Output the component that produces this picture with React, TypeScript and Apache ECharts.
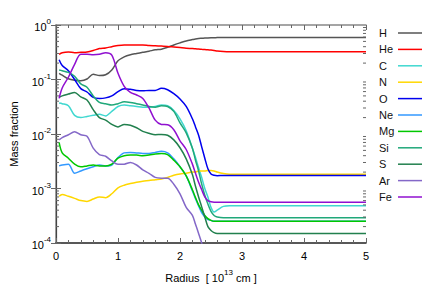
import React, { useEffect, useRef } from 'react';
import * as echarts from 'echarts';

// Radius in units of 10^13 cm
const radius = [0.05, 0.1, 0.2, 0.3, 0.4, 0.5, 0.6, 0.7, 0.8, 0.9, 1.0, 1.1, 1.2, 1.3, 1.4, 1.5, 1.6, 1.7, 1.8, 1.9, 2.0, 2.1, 2.2, 2.25, 2.3, 2.35, 2.4, 2.45, 2.5, 2.55, 2.6, 2.7, 2.8, 3.0, 3.5, 4.0, 4.5, 5.0];

const H = [0.13, 0.12, 0.103, 0.097, 0.095, 0.102, 0.125, 0.118, 0.122, 0.15, 0.22, 0.26, 0.285, 0.3, 0.315, 0.33, 0.35, 0.36, 0.39, 0.43, 0.47, 0.51, 0.54, 0.555, 0.565, 0.57, 0.575, 0.58, 0.583, 0.585, 0.587, 0.59, 0.59, 0.59, 0.59, 0.59, 0.59, 0.59];
const He = [0.29, 0.31, 0.32, 0.31, 0.315, 0.32, 0.34, 0.37, 0.38, 0.4, 0.42, 0.43, 0.43, 0.43, 0.43, 0.42, 0.415, 0.41, 0.405, 0.395, 0.385, 0.375, 0.37, 0.366, 0.362, 0.358, 0.355, 0.35, 0.348, 0.342, 0.333, 0.325, 0.322, 0.322, 0.322, 0.322, 0.322, 0.322];
const C = [0.037, 0.036, 0.033, 0.022, 0.02, 0.021, 0.022, 0.023, 0.0215, 0.026, 0.032, 0.034, 0.033, 0.032, 0.031, 0.031, 0.032, 0.034, 0.033, 0.027, 0.019, 0.0115, 0.0055, 0.0037, 0.0024, 0.0016, 0.001, 0.0007, 0.00045, 0.00037, 0.0004, 0.00047, 0.00048, 0.00048, 0.00048, 0.00048, 0.00048, 0.00048];
const N = [0.00072, 0.00078, 0.00072, 0.00066, 0.0006, 0.00058, 0.00064, 0.0007, 0.00068, 0.0008, 0.00103, 0.00115, 0.00123, 0.0013, 0.00136, 0.0014, 0.00145, 0.0015, 0.0016, 0.00175, 0.00185, 0.0019, 0.002, 0.002, 0.0021, 0.0021, 0.0021, 0.00215, 0.00215, 0.0021, 0.002, 0.00188, 0.00183, 0.00183, 0.00183, 0.00183, 0.00183, 0.00183];
const O = [0.23, 0.18, 0.145, 0.1, 0.068, 0.059, 0.047, 0.045, 0.046, 0.05, 0.06, 0.068, 0.066, 0.063, 0.062, 0.063, 0.063, 0.069, 0.065, 0.055, 0.044, 0.032, 0.019, 0.0135, 0.0095, 0.0058, 0.0036, 0.0023, 0.00185, 0.00175, 0.00172, 0.00173, 0.00173, 0.00173, 0.00173, 0.00173, 0.00173, 0.00173];
const Ne = [0.0026, 0.0027, 0.0028, 0.0019, 0.0021, 0.0023, 0.0025, 0.0027, 0.0026, 0.0027, 0.0037, 0.0045, 0.0046, 0.0045, 0.0044, 0.0044, 0.0046, 0.0048, 0.0045, 0.0035, 0.0025, 0.0017, 0.0009, 0.00065, 0.00048, 0.00036, 0.0003, 0.00027, 0.00026, 0.00025, 0.00025, 0.00025, 0.00025, 0.00025, 0.00025, 0.00025, 0.00025, 0.00025];
const Mg = [0.007, 0.0045, 0.0036, 0.0028, 0.0025, 0.0026, 0.0027, 0.0026, 0.0026, 0.0028, 0.0036, 0.004, 0.0041, 0.0041, 0.004, 0.0041, 0.0043, 0.0044, 0.0042, 0.0033, 0.0025, 0.0017, 0.00095, 0.00068, 0.0005, 0.0004, 0.00032, 0.00028, 0.00026, 0.00025, 0.00025, 0.00025, 0.00025, 0.00025, 0.00025, 0.00025, 0.00025, 0.00025];
const Si = [0.15, 0.145, 0.135, 0.115, 0.083, 0.072, 0.05, 0.038, 0.036, 0.034, 0.036, 0.039, 0.038, 0.036, 0.034, 0.032, 0.031, 0.033, 0.032, 0.026, 0.016, 0.0105, 0.0055, 0.0033, 0.0021, 0.0012, 0.00075, 0.00052, 0.00038, 0.00032, 0.0003, 0.00029, 0.00029, 0.00029, 0.00029, 0.00029, 0.00029, 0.00029];
const S = [0.047, 0.05, 0.054, 0.058, 0.048, 0.042, 0.028, 0.02, 0.018, 0.015, 0.0135, 0.015, 0.0145, 0.013, 0.0112, 0.0103, 0.0097, 0.0098, 0.0095, 0.0078, 0.0056, 0.0035, 0.0018, 0.0011, 0.0007, 0.00046, 0.0003, 0.0002, 0.00017, 0.000155, 0.00015, 0.00015, 0.00015, 0.00015, 0.00015, 0.00015, 0.00015, 0.00015];
const Ar = [0.0078, 0.0086, 0.0097, 0.011, 0.0097, 0.0091, 0.0055, 0.0042, 0.0039, 0.0032, 0.0028, 0.0028, 0.003, 0.0027, 0.0022, 0.0019, 0.0016, 0.00155, 0.00155, 0.0012, 0.0008, 0.00045, 0.00032, 0.00022, 0.00015, 0.0001, 0.00006, 0.00003, 0.00002, null, null, null, null, null, null, null, null, null];
const Fe = [0.045, 0.07, 0.11, 0.19, 0.29, 0.29, 0.285, 0.29, 0.31, 0.28, 0.13, 0.075, 0.058, 0.052, 0.045, 0.03, 0.018, 0.015, 0.0148, 0.012, 0.0075, 0.0052, 0.0028, 0.0019, 0.0013, 0.00095, 0.0007, 0.0006, 0.00057, 0.00056, 0.00056, 0.00056, 0.00056, 0.00056, 0.00056, 0.00056, 0.00056, 0.00056];

const elements = ['H', 'He', 'C', 'N', 'O', 'Ne', 'Mg', 'Si', 'S', 'Ar', 'Fe'];
const abundances = [H, He, C, N, O, Ne, Mg, Si, S, Ar, Fe];
const colors = ['#555555', '#ff0000', '#40d8d0', '#ffd700', '#0000ee', '#3399ff', '#00c800', '#20a87a', '#22804e', '#8468c8', '#9010d0'];

const minorTickValues = [
  0.0002, 0.0003, 0.0004, 0.0005, 0.0006, 0.0007, 0.0008, 0.0009,
  0.002, 0.003, 0.004, 0.005, 0.006, 0.007, 0.008, 0.009,
  0.02, 0.03, 0.04, 0.05, 0.06, 0.07, 0.08, 0.09,
  0.2, 0.3, 0.4, 0.5, 0.6, 0.7, 0.8, 0.9,
];

const FONT = 'Liberation Sans, Arial, sans-serif';

export default function App() {
  const ref = useRef<HTMLDivElement>(null);

  useEffect(() => {
    document.body.style.margin = '0';
    if (!ref.current) return;
    const chart = echarts.init(ref.current, undefined, { renderer: 'svg' });

    const lineSeries = elements.map((name, i) => ({
      name,
      type: 'line',
      data: radius.map((r, j) => [r, abundances[i][j]]),
      showSymbol: false,
      symbol: 'none',
      smooth: 0.3,
      connectNulls: false,
      clip: true,
      lineStyle: { color: colors[i], width: 1.5 },
      itemStyle: { color: colors[i] },
      z: 2,
    }));

    const minorTickSeries = {
      type: 'custom',
      data: minorTickValues.map((v) => [0, v]),
      encode: { x: 0, y: 1 },
      silent: true,
      clip: false,
      z: 5,
      renderItem: (_params: any, api: any) => {
        const v = api.value(1);
        const pl = api.coord([0, v]);
        const pr = api.coord([5, v]);
        return {
          type: 'group',
          children: [
            { type: 'line', shape: { x1: pl[0], y1: pl[1], x2: pl[0] + 3, y2: pl[1] }, style: { stroke: '#666', lineWidth: 1 } },
            { type: 'line', shape: { x1: pr[0], y1: pr[1], x2: pr[0] - 3, y2: pr[1] }, style: { stroke: '#666', lineWidth: 1 } },
          ],
        };
      },
    };

    const rich = {
      b: { fontSize: 11, fontFamily: FONT, color: '#000', lineHeight: 15, verticalAlign: 'bottom' },
      s: { fontSize: 8, fontFamily: FONT, color: '#000', lineHeight: 8, verticalAlign: 'top' },
    };

    const legendGraphics: any[] = [];
    elements.forEach((name, i) => {
      const y = 33 + i * 16.4;
      legendGraphics.push({
        type: 'text',
        x: 379,
        y,
        style: { text: name, fill: '#111', font: `11px ${FONT}`, verticalAlign: 'middle', align: 'left' },
      });
      legendGraphics.push({
        type: 'line',
        shape: { x1: 398, y1: y, x2: 422, y2: y },
        style: { stroke: colors[i], lineWidth: 1.5 },
      });
    });

    const option: any = {
      animation: false,
      backgroundColor: '#fff',
      textStyle: { fontFamily: FONT },
      grid: { left: 53, right: 70, top: 25, bottom: 62, containLabel: false },
      xAxis: [
        {
          type: 'value',
          min: 0,
          max: 5,
          interval: 1,
          position: 'bottom',
          name: '{b|Radius  [ 10}{s|13}{b| cm ]}',
          nameLocation: 'middle',
          nameGap: 25,
          nameTextStyle: { rich },
          axisLine: { show: true, lineStyle: { color: '#222', width: 1.5 } },
          axisTick: { show: true, inside: true, length: 5, lineStyle: { color: '#666' } },
          minorTick: { show: true, splitNumber: 5, length: 3, lineStyle: { color: '#666' } },
          axisLabel: { color: '#000', fontSize: 11, fontFamily: FONT, margin: 7 },
          splitLine: { show: false },
        },
        {
          type: 'value',
          min: 0,
          max: 5,
          interval: 1,
          position: 'top',
          axisLine: { show: true, lineStyle: { color: '#888', width: 1.5 } },
          axisTick: { show: true, inside: true, length: 5, lineStyle: { color: '#666' } },
          minorTick: { show: true, splitNumber: 5, length: 3, lineStyle: { color: '#666' } },
          axisLabel: { show: false },
          splitLine: { show: false },
        },
      ],
      yAxis: [
        {
          type: 'log',
          logBase: 10,
          min: 0.0001,
          max: 1,
          position: 'left',
          name: 'Mass fraction',
          nameLocation: 'middle',
          nameGap: 37,
          nameTextStyle: { color: '#000', fontSize: 11, fontFamily: FONT },
          axisLine: { show: true, lineStyle: { color: '#888', width: 1.5 } },
          axisTick: { show: true, inside: true, length: 5, lineStyle: { color: '#666' } },
          axisLabel: {
            margin: 5,
            formatter: (v: number) => `{b|10}{s|${Math.round(Math.log10(v))}}`,
            rich,
          },
          splitLine: { show: false },
        },
        {
          type: 'log',
          logBase: 10,
          min: 0.0001,
          max: 1,
          position: 'right',
          axisLine: { show: true, lineStyle: { color: '#444', width: 1.2 } },
          axisTick: { show: true, inside: true, length: 5, lineStyle: { color: '#666' } },
          axisLabel: { show: false },
          splitLine: { show: false },
        },
      ],
      graphic: legendGraphics,
      series: [...lineSeries, minorTickSeries],
    };

    chart.setOption(option);
    return () => chart.dispose();
  }, []);

  return <div ref={ref} style={{ width: 436, height: 305 }} />;
}
